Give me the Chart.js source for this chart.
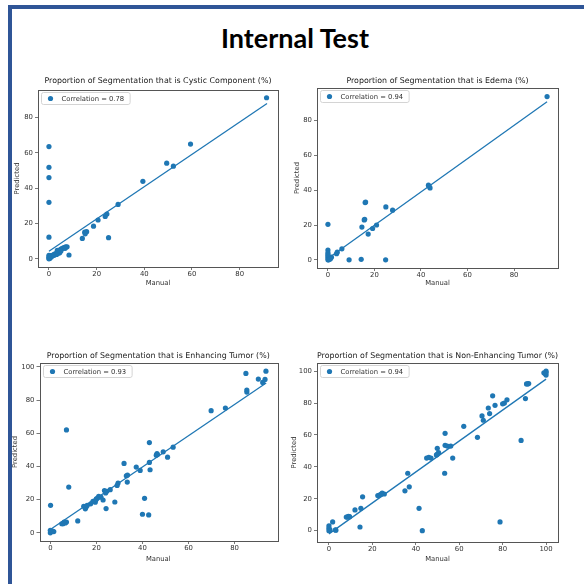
<!DOCTYPE html>
<html>
<head>
<meta charset="utf-8">
<script src="https://cdn.jsdelivr.net/npm/chart.js@4.4.0/dist/chart.umd.min.js"></script>
<style>
    html, body { margin: 0; padding: 0; background: #fff; }
    body { width: 584px; height: 584px; position: relative; overflow: hidden; }
    #frame { position: absolute; left: 8px; top: 5px; width: 620px; height: 620px;
             border-top: 4px solid #2f5597; border-left: 4px solid #2f5597; z-index: 2; pointer-events: none; }
    h1 { position: absolute; left: 0; top: 22px; width: 590px; margin: 0; text-align: center;
         font: bold 27px Lato, sans-serif; line-height: 32px; color: #000; }
    canvas { position: absolute; }
</style>
</head>
<body>
<div id="frame"></div>
<h1>Internal Test</h1>
<canvas id="cystic"></canvas>
<canvas id="edema"></canvas>
<canvas id="enhancing"></canvas>
<canvas id="nonEnhancing"></canvas>

<script>
// --- data ---
const cysticManual    = [91.3, 59.4, 49.4, 52.2, 39.4, 29, 24.3, 23.6, 20.6, 18.7, 15.8, 15, 15.2, 14, 25, 0, 0, 0, 0, 0, 8.4, 7.6, 7, 6.5, 6, 5.5, 5, 4.5, 4, 4, 3.6, 3, 2.5, 2, 1.5, 1, 0.5, 0, 0, 0, 0.3, 1, 4.5, 5, 3.5, 0, 0.2, 6.8, 2.2, 3.2];
const cysticPredicted = [91.2, 65, 54.2, 52.5, 43.9, 30.8, 25.4, 24, 22, 18.5, 15.4, 15.1, 14.2, 11.6, 12, 63.6, 51.8, 46, 32, 12.3, 2.2, 6.8, 6.8, 6.4, 6.2, 5.8, 5.5, 5, 4.6, 3.2, 3.5, 3, 2.8, 2.4, 2, 1.8, 1.5, 1.2, 0.5, 0, 0.2, 1, 3.5, 4.5, 4.8, 2, 0.8, 6, 2, 2.5];
const cysticFitX = [0, 91.5];
const cysticFitY = [4.3, 88];

const edemaManual    = [94.2, 43.2, 43.9, 43.5, 27.8, 24.9, 16, 15.6, 14.6, 17.3, 19.2, 20.9, 0, 0, 0, 0, 0, 0, 9.1, 14.3, 24.8, 6, 4, 3.7, 1, 0.5, 1.5, 0.3, 0, 1, 16.2, 15.8];
const edemaPredicted = [93.8, 42.9, 41.3, 42.2, 28.5, 30.4, 32.9, 22.9, 18.8, 14.8, 18, 20, 20.4, 5.6, 4, 2.1, 1, 0, 0, 0.3, 0, 6.3, 4.4, 3.5, 1, 0.5, 1.5, 0, 3, 0.5, 33.2, 23.3];
const edemaFitX = [0, 94.2];
const edemaFitY = [0.8, 90.8];

const enhManual    = [93.6, 93.2, 92.2, 90.3, 84.9, 85.3, 85.3, 76, 69.8, 53.3, 50.9, 49, 46.3, 46, 43, 43, 43.3, 40.9, 40, 42.7, 39, 37.3, 33.4, 33, 32, 29.4, 29, 28, 26, 24.5, 23.5, 24, 24.2, 22.9, 22, 21, 20.5, 19.8, 19.5, 18.5, 17.5, 15.5, 15.2, 14.5, 16, 11.9, 8, 7, 7, 6.5, 6, 5.5, 5, 0.1, 0, 0.3, 1, 1.5, 0, 20, 33.5, 46.5];
const enhPredicted = [97.4, 92.4, 90.6, 92.6, 96, 86, 84.8, 75.2, 73.6, 51.6, 45.6, 48.8, 47.8, 46.8, 54.4, 42.4, 38, 20.8, 11.2, 10.8, 37.6, 39.6, 30.6, 34.4, 41.8, 30, 28.6, 18.6, 26, 25, 25.5, 24, 14.6, 19.8, 21.5, 22, 21, 20, 18.5, 19, 17.5, 15.5, 14.5, 16, 16.5, 7.2, 27.6, 62, 6.5, 6, 6.5, 5.5, 5.5, 16.6, 0, 1, 1, 0.8, 1.5, 20.5, 34.8, 47.2];
const enhFitX = [0, 93.7];
const enhFitY = [2, 90.3];

const nonEnhManual    = [100, 99.5, 100, 99, 100, 91, 92, 91.5, 90.5, 88.5, 82, 80.8, 80, 78.8, 76.5, 75.4, 73.4, 74, 70.5, 71.1, 68.4, 62.1, 57, 56.1, 54.5, 53.5, 53.5, 53.3, 49.9, 50.5, 50, 49.5, 47, 45, 46, 43, 41.5, 37, 36.3, 35, 25.5, 24.5, 23.5, 22.5, 24, 15.5, 14.7, 14.3, 12, 9, 8.5, 8, 9.5, 1.7, 3.2, 3, 0, 0, 0.5, 0];
const nonEnhPredicted = [100, 98.5, 97.5, 99, 99, 92, 92.2, 92, 82.8, 56.6, 82, 80, 79.5, 5.5, 78.6, 84.5, 76.9, 73.4, 71.9, 69.2, 58.5, 65.4, 45.5, 53, 53, 61, 53.5, 36, 51.6, 49, 48, 47.5, 45.5, 45.5, 46, 0, 14, 27.5, 36, 25, 23, 23.5, 22.5, 22, 22.8, 21.2, 14, 2.3, 13, 9, 8.5, 8.5, 8.8, 5.5, 0.3, 0.5, 3, 1.5, 0.5, 0];
const nonEnhFitX = [0, 100];
const nonEnhFitY = [-2, 95];

const ticks0to80  = [0, 20, 40, 60, 80];
const ticks0to100 = [0, 20, 40, 60, 80, 100];

// --- styling ---
const BLUE = '#1f77b4';
const TITLE_SIZE = 7.9, TICK_SIZE = 6.9, LABEL_SIZE = 6.8, LEGEND_SIZE = 6.8;
Chart.defaults.font.family = '"DejaVu Sans", sans-serif';
Chart.defaults.color = '#333';

const axesBox = {
    id: 'axesBox',
    beforeDatasetsDraw(chart) {
        const a = chart.chartArea, ctx = chart.ctx;
        ctx.save();
        ctx.strokeStyle = '#555';
        ctx.lineWidth = 1;
        ctx.strokeRect(Math.round(a.left) + 0.5, Math.round(a.top) + 0.5,
                       Math.round(a.right - a.left), Math.round(a.bottom - a.top));
        ctx.restore();
    }
};

const innerLegend = {
    id: 'innerLegend',
    afterDatasetsDraw(chart) {
        const a = chart.chartArea, ctx = chart.ctx;
        const label = chart.data.datasets[0].label;
        ctx.save();
        ctx.font = LEGEND_SIZE + 'px "DejaVu Sans"';
        const tw = ctx.measureText(label).width;
        const x = Math.round(a.left) + 3.5, y = Math.round(a.top) + 2.5, w = tw + 26, h = 12;
        ctx.fillStyle = 'rgba(255,255,255,0.8)';
        ctx.strokeStyle = '#d4d4d4';
        ctx.lineWidth = 1;
        ctx.beginPath();
        ctx.roundRect(x, y, w, h, 2);
        ctx.fill();
        ctx.stroke();
        ctx.fillStyle = BLUE;
        ctx.beginPath();
        ctx.arc(x + 9, y + h / 2, 2.6, 0, Math.PI * 2);
        ctx.fill();
        ctx.fillStyle = '#333';
        ctx.textBaseline = 'middle';
        ctx.fillText(label, x + 20, y + h / 2 + 0.5);
        ctx.restore();
    }
};

function makeChart(id, lay, xs, ys, fitX, fitY, label, title, xRange, yRange, xTicks, yTicks) {
    const [L, T, R, B] = lay.area;
    const cl = lay.yLabelX - 5, ct = lay.titleY - 9, cr = R + 12, cb = lay.xLabelY + 6;
    const cv = document.getElementById(id);
    cv.width = cr - cl;
    cv.height = cb - ct;
    cv.style.left = cl + 'px';
    cv.style.top = ct + 'px';

    const titleLH = TITLE_SIZE * 1.2, labelLH = LABEL_SIZE * 1.2;
    const tickGrid = { drawOnChartArea: false, drawTicks: true, tickLength: 3, color: '#555', lineWidth: 0.8 };

    return new Chart(cv, {
        type: 'scatter',
        data: {
            datasets: [{
                label: label,
                data: xs.map((x, i) => ({ x: x, y: ys[i] })),
                backgroundColor: BLUE,
                borderWidth: 0,
                pointRadius: 2.6
            }, {
                label: 'fit',
                data: fitX.map((x, i) => ({ x: x, y: fitY[i] })),
                showLine: true,
                borderColor: BLUE,
                borderWidth: 1.3,
                pointRadius: 0,
                fill: false
            }]
        },
        options: {
            responsive: false,
            animation: false,
            events: [],
            layout: { padding: { left: 0, top: 0, right: cr - R, bottom: 0 } },
            plugins: {
                legend: { display: false },
                tooltip: { enabled: false },
                title: {
                    display: true,
                    text: title,
                    fullSize: false,
                    color: '#1a1a1a',
                    font: { size: TITLE_SIZE, weight: 'normal', lineHeight: 1.2 },
                    padding: { top: 9 - titleLH / 2, bottom: (T - ct) - 9 - titleLH / 2 }
                }
            },
            scales: {
                x: {
                    type: 'linear',
                    min: xRange[0], max: xRange[1],
                    afterBuildTicks: s => { s.ticks = xTicks.map(v => ({ value: v })); },
                    afterFit: s => { s.height = cb - B; },
                    grid: tickGrid,
                    border: { display: false },
                    ticks: { font: { size: TICK_SIZE }, padding: 0.5, color: '#333', maxRotation: 0 },
                    title: { display: true, text: 'Manual', color: '#333', font: { size: LABEL_SIZE, lineHeight: 1.2 },
                             padding: { top: 0, bottom: 6 - labelLH / 2 } }
                },
                y: {
                    type: 'linear',
                    min: yRange[0], max: yRange[1],
                    afterBuildTicks: s => { s.ticks = yTicks.map(v => ({ value: v })); },
                    afterFit: s => { s.width = L - cl; },
                    grid: tickGrid,
                    border: { display: false },
                    ticks: { font: { size: TICK_SIZE }, padding: 2, color: '#333' },
                    title: { display: true, text: 'Predicted', color: '#333', font: { size: LABEL_SIZE, lineHeight: 1.2 },
                             padding: { top: 5 - labelLH / 2, bottom: 0 } }
                }
            }
        },
        plugins: [axesBox, innerLegend]
    });
}

makeChart('cystic', { area: [38, 90, 278, 267], titleY: 81, yLabelX: 17, xLabelY: 283 },
    cysticManual, cysticPredicted, cysticFitX, cysticFitY,
    'Correlation = 0.78', 'Proportion of Segmentation that is Cystic Component (%)',
    [-4.6, 96.1], [-4.6, 95.6], ticks0to80, ticks0to80);

makeChart('edema', { area: [317, 88, 558, 268], titleY: 81, yLabelX: 297, xLabelY: 283 },
    edemaManual, edemaPredicted, edemaFitX, edemaFitY,
    'Correlation = 0.94', 'Proportion of Segmentation that is Edema (%)',
    [-4.7, 98.9], [-4.7, 98.7], ticks0to80, ticks0to80);

makeChart('enhancing', { area: [39, 363, 277, 541], titleY: 356, yLabelX: 14.5, xLabelY: 559 },
    enhManual, enhPredicted, enhFitX, enhFitY,
    'Correlation = 0.93', 'Proportion of Segmentation that is Enhancing Tumor (%)',
    [-4.7, 98.4], [-4.9, 102.3], ticks0to80, ticks0to100);

makeChart('nonEnhancing', { area: [317, 363, 558, 542], titleY: 356, yLabelX: 294, xLabelY: 559 },
    nonEnhManual, nonEnhPredicted, nonEnhFitX, nonEnhFitY,
    'Correlation = 0.94', 'Proportion of Segmentation that is Non-Enhancing Tumor (%)',
    [-5.5, 105.5], [-7.1, 105.1], ticks0to100, ticks0to100);
</script>
</body>
</html>
